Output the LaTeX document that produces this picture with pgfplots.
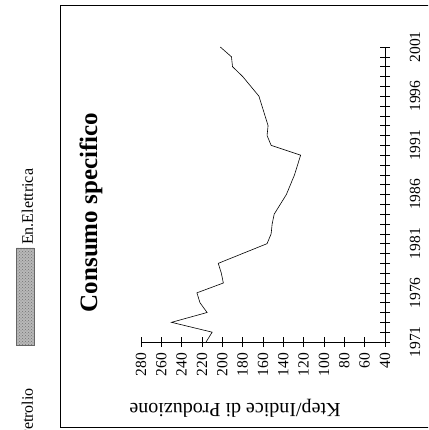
\documentclass[border=0pt]{standalone}
\usepackage{fontspec}
\setmainfont{Liberation Serif}
\usepackage{pgfplots}
\usetikzlibrary{patterns}
\pgfplotsset{compat=1.18}
\begin{document}
\rotatebox{90}{%
\begin{tikzpicture}[x=1pt,y=1pt]
\path[use as bounding box, clip] (0,0) rectangle (430,428);
\draw[line width=0.8pt] (3,-5) -- (3,368) -- (425,368) -- (425,-5);
\fill[black!28] (85,394) rectangle (182,412);
\fill[pattern=crosshatch dots, pattern color=black!55] (85,394) rectangle (182,412);
\draw[black!60, line width=0.4pt] (85,394) rectangle (182,412);
\node[anchor=base east, inner sep=0pt, font=\fontsize{16}{19}\selectfont] at (42,395) {Petrolio};
\node[anchor=base west, inner sep=0pt, font=\fontsize{16}{19}\selectfont] at (185,395) {En.Elettrica};
\begin{axis}[
 at={(88pt,43pt)}, anchor=south west,
 scale only axis, width=295pt, height=244pt,
 xmin=1971, xmax=2001, ymin=40, ymax=280,
 axis lines=left, axis line style={-, line width=0.7pt},
 xtick={1971,1976,...,2001}, minor x tick num=4,
 ytick={40,60,...,280},
 tick align=center, major tick length=10pt, minor tick length=10pt,
 tick style={black, line width=0.6pt},
 /pgf/number format/assume math mode=true,
 x tick label style={/pgf/number format/1000 sep={}, anchor=base, yshift=-30pt, inner sep=0pt, font=\fontsize{15.5}{18}\selectfont},
 y tick label style={anchor=east, xshift=-6pt, inner sep=0pt, font=\fontsize{15.5}{18}\selectfont},
 ylabel={Ktep/Indice di Produzione},
 ylabel style={at={(axis description cs:-0.2237,0.6148)}, anchor=center, font=\fontsize{20}{24}\selectfont},
 title={Consumo specifico},
 title style={at={(axis description cs:0.439,1.18)}, anchor=center, font=\bfseries\fontsize{25}{30}\selectfont},
 clip=false,
]
\addplot[black, line width=0.6pt] coordinates {
(1971,216) (1972,210) (1973,250) (1974,215) (1975,222) (1976,225)
(1977,199) (1978,201) (1979,204) (1980,180) (1981,156) (1982,152)
(1983,151) (1984,149) (1985,143) (1986,137) (1987,133) (1988,129)
(1989,126) (1990,123) (1991,152) (1992,156) (1993,155) (1994,158)
(1995,161) (1996,164) (1997,172) (1998,180) (1999,190) (2000,191)
(2001,202)
};
\end{axis}
\end{tikzpicture}}
\end{document}
